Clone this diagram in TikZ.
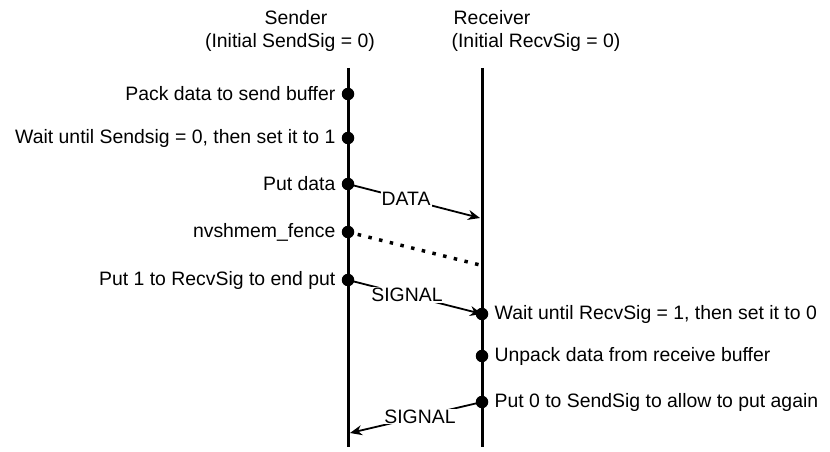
\documentclass[tikz,border=0pt]{standalone}
\usepackage{fontspec}
\setmainfont{Liberation Sans}
\usetikzlibrary{positioning,arrows.meta}

\begin{document}
\begin{tikzpicture}[x=1pt,y=-1pt,>={Stealth[length=12pt,width=10pt]},
  every node/.style={font=\fontsize{19.4}{24}\selectfont},
  dot/.style={circle,fill,inner sep=0pt,minimum size=12.5pt},
  lbl/.style={inner sep=0pt},
  msg/.style={fill=white,inner sep=1pt},
  life/.style={line width=3pt},
  conn/.style={line width=1.8pt}]
  \useasboundingbox (0,0) rectangle (830,452);
  \def\xs{348}\def\xr{482}
  \node (sname) at (296,18) {Sender};
  \node (sinit) at (290,42) {(Initial SendSig = 0)};
  \node (rname) at (492,18) {Receiver};
  \node (rinit) at (536,42) {(Initial RecvSig = 0)};
  \coordinate (stop) at (\xs,68); \coordinate (sbot) at (\xs,447);
  \coordinate (rtop) at (\xr,68); \coordinate (rbot) at (\xr,447);
  \draw[life] (stop) -- (sbot);
  \draw[life] (rtop) -- (rbot);
  \node[dot] (s1) at (\xs,94) {};
  \node[dot] (s2) at (\xs,138) {};
  \node[dot] (s3) at (\xs,184) {};
  \node[dot] (s4) at (\xs,232) {};
  \node[dot] (s5) at (\xs,280) {};
  \node[dot] (r1) at (\xr,314) {};
  \node[dot] (r2) at (\xr,356) {};
  \node[dot] (r3) at (\xr,402) {};
  \node[lbl,left=6pt of s1] {Pack data to send buffer};
  \node[lbl,left=6pt of s2] {Wait until Sendsig = 0, then set it to 1};
  \node[lbl,left=6pt of s3] {Put data};
  \node[lbl,left=6pt of s4] {nvshmem\_fence};
  \node[lbl,left=6pt of s5] {Put 1 to RecvSig to end put};
  \node[lbl,right=6pt of r1] {Wait until RecvSig = 1, then set it to 0};
  \node[lbl,right=6pt of r2] {Unpack data from receive buffer};
  \node[lbl,right=6pt of r3] {Put 0 to SendSig to allow to put again};
  \coordinate (dend) at (\xr-2,218);
  \coordinate (fend) at (\xr-2,265);
  \coordinate (send) at (\xs+2,433);
  \draw[conn,->] (s3.center) -- node[msg,pos=0.44]{DATA} (dend);
  \draw[dash pattern=on 3.5pt off 7.5pt,line width=3.5pt,shorten <=10pt] (s4.center) -- (fend);
  \draw[conn,->] (s5.center) -- node[msg,pos=0.44]{SIGNAL} (r1.center);
  \draw[conn,->] (r3.center) -- node[msg,pos=0.47]{SIGNAL} (send);
\end{tikzpicture}
\end{document}
